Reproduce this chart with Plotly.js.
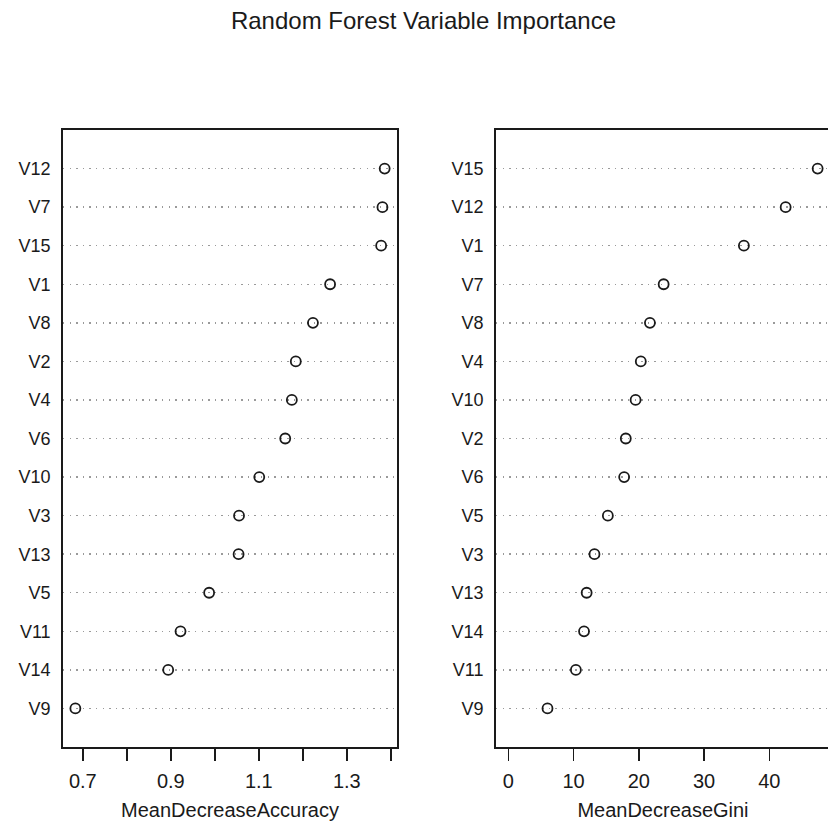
<!DOCTYPE html>
<html>
<head>
<meta charset="utf-8">
<script src="https://cdn.plot.ly/plotly-3.0.1.min.js"></script>
<style>
html,body{margin:0;padding:0;overflow:hidden;background:#fff;}
#chart{width:832px;height:821px;}
</style>
</head>
<body>
<div id="chart"></div>
<script>
// Left panel (top to bottom)
const accVars = ["V12","V7","V15","V1","V8","V2","V4","V6","V10","V3","V13","V5","V11","V14","V9"];
const accVals = [1.386,1.381,1.378,1.262,1.223,1.184,1.175,1.160,1.101,1.055,1.054,0.987,0.922,0.894,0.683];
// Right panel (top to bottom)
const giniVars = ["V15","V12","V1","V7","V8","V4","V10","V2","V6","V5","V3","V13","V14","V11","V9"];
const giniVals = [47.4,42.5,36.1,23.8,21.7,20.3,19.5,18.0,17.75,15.25,13.2,12.0,11.6,10.35,6.0];
const accTicks = [0.7,0.8,0.9,1.0,1.1,1.2,1.3,1.4];
const accTickText = ["0.7","","0.9","","1.1","","1.3",""];
const giniTicks = [0,10,20,30,40];

const FONT = "Liberation Sans, Arial, sans-serif";
const ink = "#1a1a1a";

function pad(vals, lo){
  const mn = lo === undefined ? Math.min(...vals) : Math.min(lo, ...vals);
  const mx = Math.max(...vals);
  const d = (mx - mn) * 0.04;
  return [mn - d, mx + d];
}

const marker = {symbol:"circle-open", size:10, color:ink, line:{width:1.8, color:ink}};

const traces = [
  {x: accVals, y: accVars, type:"scatter", mode:"markers", marker: marker, xaxis:"x", yaxis:"y", hoverinfo:"x+y"},
  {x: giniVals, y: giniVars, type:"scatter", mode:"markers", marker: marker, xaxis:"x2", yaxis:"y2", hoverinfo:"x+y"}
];

function yax(vars, anchor){
  return {
    type:"category", categoryorder:"array", categoryarray: vars.slice().reverse(),
    range:[-1, vars.length], anchor: anchor,
    showline:true, mirror:true, linecolor:ink, linewidth:1.8,
    ticks:"", ticklabelstandoff:7,
    tickfont:{family:FONT, size:18, color:ink},
    showgrid:true, gridcolor:"#9a9a9a", gridwidth:1.4, griddash:"1.4px,5.2px",
    zeroline:false, fixedrange:true
  };
}
function xax(domain, range, tickvals, ticktext, title, anchor){
  return {
    domain: domain, range: range, anchor: anchor,
    tickmode:"array", tickvals: tickvals, ticktext: ticktext,
    ticks:"outside", ticklen:12, tickwidth:1.5, tickcolor:ink,
    showline:true, mirror:true, linecolor:ink, linewidth:1.8,
    showgrid:false, zeroline:false,
    ticklabelstandoff:3,
    tickfont:{family:FONT, size:20, color:ink},
    title:{text:title, font:{family:FONT, size:20, color:ink}, standoff:12},
    fixedrange:true
  };
}

const layout = {
  width:832, height:821,
  margin:{l:63, r:2, t:130, b:74},
  paper_bgcolor:"#fff", plot_bgcolor:"#fff",
  showlegend:false,
  title:{text:"Random Forest Variable Importance", font:{family:FONT, size:24, color:ink},
         xref:"container", x:0.509, xanchor:"center", yref:"container", y:0.975, yanchor:"middle"},
  xaxis: xax([0, 0.4355], pad(accVals), accTicks, accTickText, "MeanDecreaseAccuracy", "y"),
  yaxis: yax(accVars, "x"),
  xaxis2: xax([0.5645, 1], pad(giniVals, 0), giniTicks, giniTicks.map(String), "MeanDecreaseGini", "y2"),
  yaxis2: yax(giniVars, "x2")
};

Plotly.newPlot("chart", traces, layout, {displayModeBar:false, staticPlot:true});
</script>
</body>
</html>
